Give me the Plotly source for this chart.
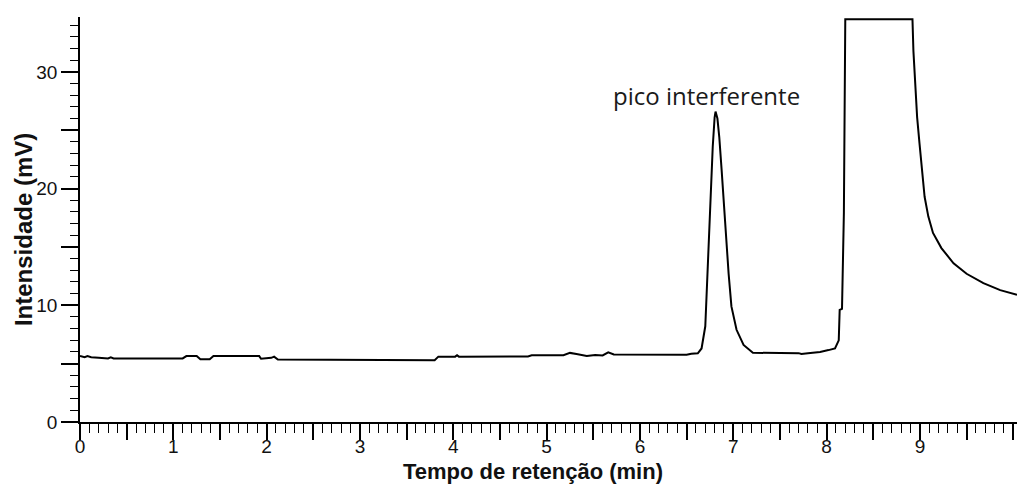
import plotly.graph_objects as go

# Chromatogram trace (retention time in min, intensity in mV)
time_min = [
    0.00, 0.05, 0.08, 0.12, 0.20, 0.30, 0.33, 0.36, 1.10, 1.14, 1.25, 1.29, 1.39, 1.43,
    1.92, 1.94, 2.05, 2.08, 2.12, 3.80, 3.84, 4.02, 4.04, 4.06, 4.80, 4.84, 5.18, 5.25,
    5.32, 5.43, 5.52, 5.60, 5.66, 5.72, 6.50, 6.55, 6.62,
    6.66, 6.70, 6.73, 6.76, 6.78, 6.80, 6.81, 6.83, 6.85, 6.875, 6.90, 6.92, 6.95, 6.98,
    7.035, 7.11, 7.21, 7.70, 7.73, 7.80, 7.93, 8.02, 8.09, 8.13, 8.14, 8.165, 8.17, 8.185,
    8.20, 8.92, 8.93, 8.95, 8.97, 8.995, 9.02, 9.05, 9.09, 9.14, 9.23, 9.36, 9.50, 9.68,
    9.86, 10.04,
]
intensity_mv = [
    5.65, 5.55, 5.65, 5.55, 5.50, 5.45, 5.55, 5.45, 5.45, 5.65, 5.65, 5.37, 5.37, 5.65,
    5.65, 5.42, 5.50, 5.60, 5.35, 5.30, 5.60, 5.60, 5.72, 5.60, 5.62, 5.72, 5.72, 5.92,
    5.82, 5.65, 5.75, 5.70, 5.97, 5.78, 5.76, 5.85, 5.88,
    6.3, 8.2, 14.4, 19.6, 23.6, 26.1, 26.6, 26.0, 24.4, 21.6, 18.7, 15.9, 12.7, 9.9,
    7.9, 6.6, 5.93, 5.90, 5.82, 5.90, 6.00, 6.16, 6.30, 7.0, 9.6, 9.7, 12.2, 17.9,
    34.5, 34.5, 31.8, 28.7, 26.1, 23.9, 21.6, 19.3, 17.6, 16.2, 14.9, 13.6, 12.7, 11.9,
    11.3, 10.9,
]

x_major_ticks = [i * 0.5 for i in range(21)]
x_label_vals = list(range(10))
x_label_text = [str(v) for v in x_label_vals]
y_tick_vals = [0, 5, 10, 15, 20, 25, 30]
y_tick_text = ["0", "", "10", "", "20", "", "30"]

annotation_text = "pico interferente"
annotation_x = 6.71
annotation_y = 28.0

x_title = "<b>Tempo de retenção (min)</b>"
y_title = "<b>Intensidade (mV)</b>"

fig = go.Figure()
fig.add_trace(go.Scatter(
    x=time_min, y=intensity_mv, mode="lines",
    line=dict(color="black", width=2), showlegend=False, hoverinfo="skip",
))

fig.add_annotation(
    x=annotation_x, y=annotation_y, xref="x", yref="y", text=annotation_text,
    showarrow=False, font=dict(family="Open Sans", size=24, color="#1a1a1a"),
)

tick_font = dict(family="Liberation Sans, Arial", size=19, color="#111")

fig.add_annotation(
    x=0.4835, y=-0.122, xref="paper", yref="paper", text=x_title,
    showarrow=False, font=dict(family="Liberation Sans, Arial", size=22, color="#111"),
    xanchor="center", yanchor="middle",
)
fig.add_annotation(
    x=-0.0608, y=0.474, xref="paper", yref="paper", text=y_title, textangle=-90,
    showarrow=False, font=dict(family="Liberation Sans, Arial", size=24, color="#111"),
    xanchor="center", yanchor="middle",
)

fig.update_layout(
    width=1017, height=484,
    margin=dict(l=80, r=0, t=17, b=62),
    paper_bgcolor="white", plot_bgcolor="white",
    xaxis=dict(
        range=[0, 10.04], showgrid=False, zeroline=False,
        showline=True, linecolor="black", linewidth=1.5,
        ticks="outside", ticklen=16, tickwidth=1.5, tickcolor="black",
        tickvals=x_major_ticks, showticklabels=False,
        minor=dict(dtick=0.1, tick0=0, ticks="outside", ticklen=9, tickwidth=1.2,
                   tickcolor="black", showgrid=False),
    ),
    # label-only axis sharing the x scale, so labels can sit close to the ticks
    xaxis2=dict(
        overlaying="x", matches="x", anchor="y", side="bottom",
        range=[0, 10.04], showgrid=False, zeroline=False, showline=False,
        ticks="outside", ticklen=7, tickcolor="rgba(0,0,0,0)",
        tickvals=x_label_vals, ticktext=x_label_text, tickfont=tick_font,
    ),
    yaxis=dict(
        range=[0, 34.7], showgrid=False, zeroline=False,
        showline=True, linecolor="black", linewidth=1.5,
        ticks="outside", ticklen=17, tickwidth=1.5, tickcolor="black",
        tickvals=y_tick_vals, ticktext=y_tick_text, tickfont=tick_font,
        minor=dict(dtick=1, tick0=0, ticks="outside", ticklen=8, tickwidth=1.2,
                   tickcolor="black", showgrid=False),
    ),
)

# invisible helper trace so the label axis is drawn
fig.add_trace(go.Scatter(
    x=[time_min[0]], y=[intensity_mv[0]], xaxis="x2", mode="markers",
    marker=dict(opacity=0), showlegend=False, hoverinfo="skip",
))

fig.write_html("out.html")
